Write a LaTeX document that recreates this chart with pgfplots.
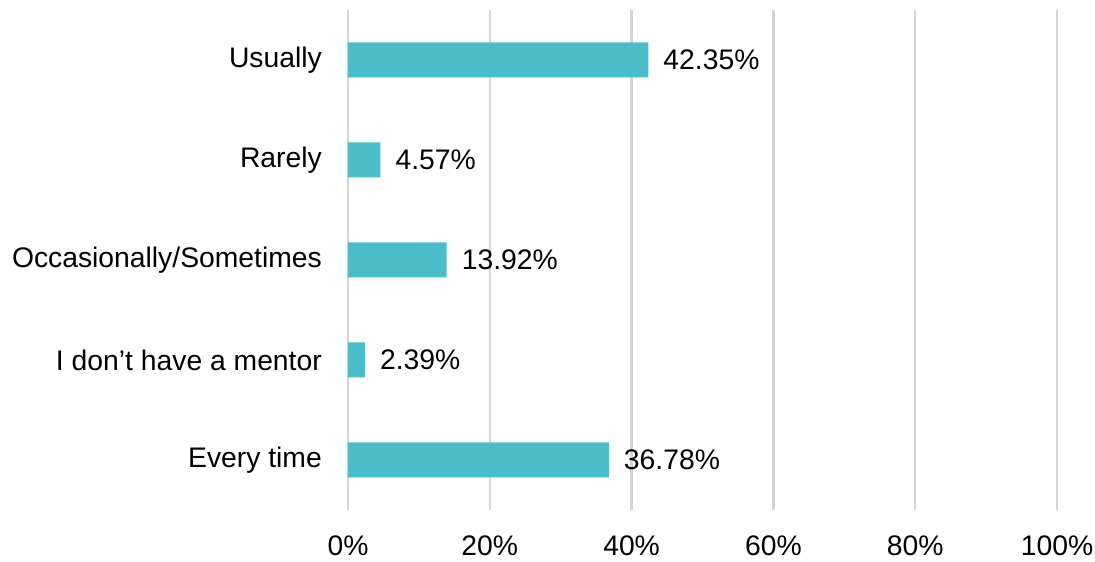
\documentclass[border=0pt]{standalone}
\usepackage{pgfplots}
\pgfplotsset{compat=1.18}
\usepackage{fontspec}
\setmainfont{Liberation Sans}
\definecolor{barc}{HTML}{4BBDC8}
\definecolor{gridc}{HTML}{D4D4D4}
\begin{document}
\fontsize{28.4}{34}\selectfont
\begin{tikzpicture}[x=1bp,y=1bp]
\path[use as bounding box] (-348,-52) rectangle (747,510);
\begin{axis}[
  at={(0,0)}, anchor=south west,
  scale only axis,
  width=709bp, height=500bp,
  xbar, bar width=35bp,
  xmin=0, xmax=100,
  ymin=-0.5, ymax=4.5,
  ytick={0,1,2,3,4},
  yticklabels={Every time, I don’t have a mentor, Occasionally/Sometimes, Rarely, Usually},
  xtick={0,20,40,60,80,100},
  xticklabel={\pgfmathprintnumber{\tick}\%},
  /pgf/number format/assume math mode=true,
  axis line style={draw=none},
  major tick length=0pt,
  xmajorgrids, grid style={gridc, line width=2.4bp},
  tick label style={font=\fontsize{28.4}{34}\selectfont},
  yticklabel style={inner sep=0pt, xshift=-26bp},
  xticklabel style={yshift=-16bp},
  nodes near coords={\pgfmathprintnumber[fixed,fixed zerofill,precision=2]{\pgfplotspointmeta}\%},
  nodes near coords style={font=\fontsize{28.4}{34}\selectfont, anchor=west, inner sep=0pt, xshift=15bp, /pgf/number format/assume math mode=true},
  point meta=explicit,
  clip=false,
]
\addplot[fill=barc, draw=none] coordinates {
  (36.78,0) [36.78]
  (2.39,1) [2.39]
  (13.92,2) [13.92]
  (4.57,3) [4.57]
  (42.35,4) [42.35]
};
\end{axis}
\end{tikzpicture}
\end{document}
